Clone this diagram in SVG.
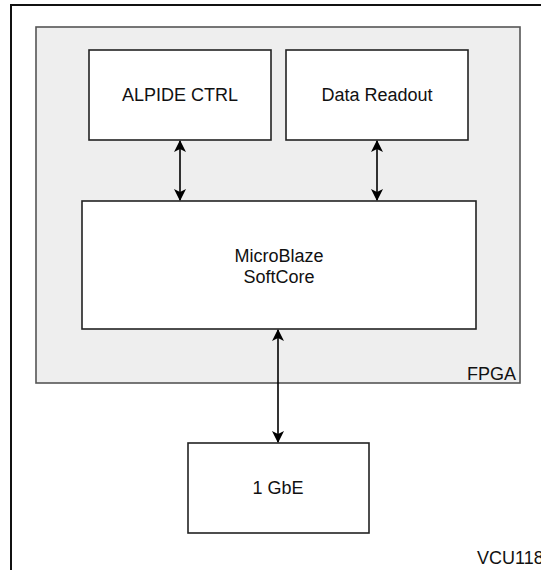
<svg xmlns="http://www.w3.org/2000/svg" width="541" height="570" viewBox="0 0 541 570">
<style>
text{font-family:"Liberation Sans",Arial,sans-serif;font-size:18px;fill:#111;}
.box{fill:#fff;stroke:#222;stroke-width:1.6;}
.conn{stroke:#000;stroke-width:1.6;fill:none;marker-start:url(#ah);marker-end:url(#ah);}
</style>
<defs>
<marker id="ah" viewBox="0 0 12 12" refX="11" refY="6" markerWidth="12" markerHeight="12" markerUnits="userSpaceOnUse" orient="auto-start-reverse">
<path d="M0,0 L12,6 L0,12 L3,6 Z" fill="#000"/>
</marker>
</defs>
<g id="vcu118">
<rect x="11" y="5" width="560" height="600" fill="#fff" stroke="#111" stroke-width="2"/>
<text x="477" y="564">VCU118</text>
</g>
<g id="fpga">
<rect x="36" y="27" width="484" height="356" fill="#eeeeee" stroke="#555" stroke-width="1.6"/>
<text x="516" y="380" text-anchor="end">FPGA</text>
</g>
<g id="alpide">
<rect class="box" x="89" y="50" width="182" height="90"/>
<text x="180" y="101" text-anchor="middle">ALPIDE CTRL</text>
</g>
<g id="readout">
<rect class="box" x="286" y="50" width="182" height="90"/>
<text x="377" y="101" text-anchor="middle">Data Readout</text>
</g>
<g id="microblaze">
<rect class="box" x="82" y="201" width="394" height="128"/>
<text x="279" y="262" text-anchor="middle">MicroBlaze</text>
<text x="279" y="283" text-anchor="middle">SoftCore</text>
</g>
<g id="gbe">
<rect class="box" x="188" y="443" width="181" height="90"/>
<text x="278" y="494" text-anchor="middle">1 GbE</text>
</g>
<g id="connectors">
<line class="conn" x1="180" y1="141" x2="180" y2="200"/>
<line class="conn" x1="377" y1="141" x2="377" y2="200"/>
<line class="conn" x1="278" y1="330" x2="278" y2="442"/>
</g>
</svg>
